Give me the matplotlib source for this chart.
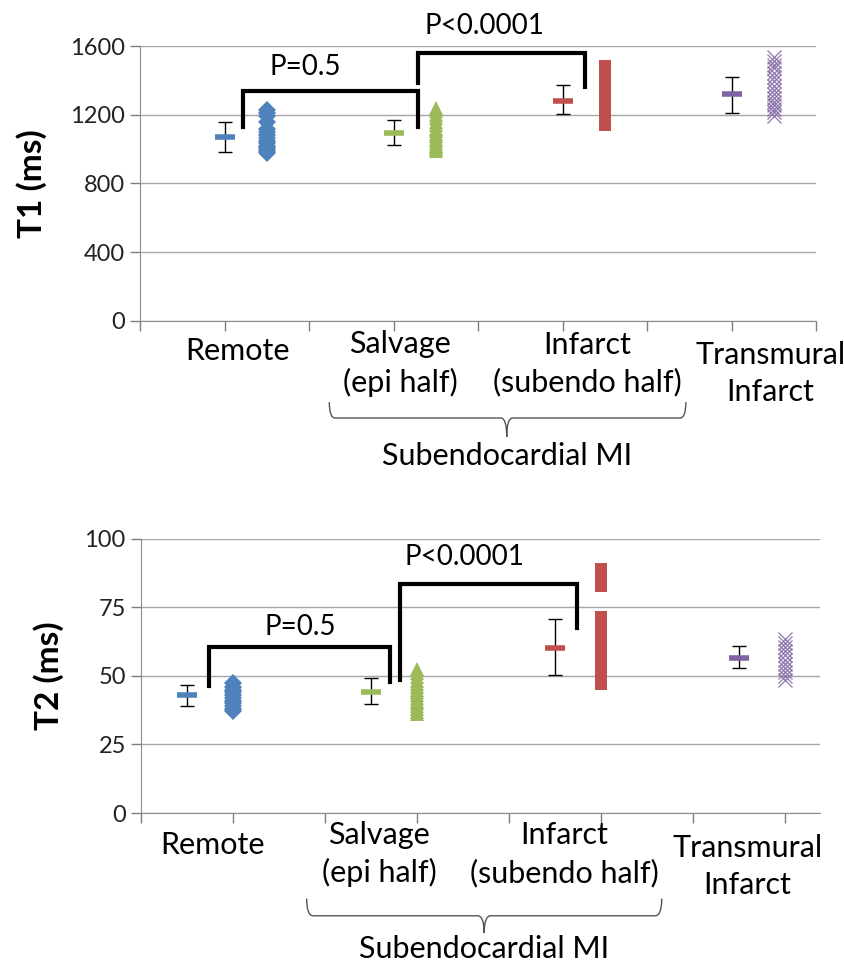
import matplotlib
matplotlib.use("Agg")
import matplotlib.pyplot as plt
import matplotlib.transforms as mtransforms
from matplotlib.path import Path
from matplotlib.patches import PathPatch

plt.rcParams['font.family'] = ['Lato', 'DejaVu Sans']

# groups shown on both panels
groups = ["Remote", "Salvage\n(epi half)", "Infarct\n(subendo half)", "Transmural\nInfarct"]
colors = ["#4F81BD", "#9BBB59", "#C0504D", "#8064A2"]
markers = ["D", "^", "s", "x"]

# T1 panel: mean, error bar ends, individual values
t1_mean = [1070, 1094, 1280, 1321]
t1_lo = [983, 1024, 1204, 1210]
t1_hi = [1158, 1170, 1373, 1420]
t1_remote = [977, 990, 1000, 1010, 1020, 1035, 1050, 1065, 1080, 1100, 1120, 1160, 1190, 1210, 1228]
t1_salvage = [990, 1000, 1010, 1020, 1030, 1045, 1060, 1075, 1090, 1105, 1120, 1140, 1160, 1180, 1200, 1220, 1238]
t1_infarct = [1143, 1165, 1190, 1215, 1240, 1265, 1290, 1315, 1340, 1365, 1390, 1415, 1440, 1460, 1481]
t1_transmural = [1193, 1215, 1235, 1255, 1275, 1300, 1320, 1345, 1370, 1395, 1420, 1445, 1470, 1490, 1515, 1536]
t1_ticks = [0, 400, 800, 1200, 1600]

# T2 panel
t2_mean = [43.1, 44.2, 60.2, 56.6]
t2_lo = [39.0, 39.8, 50.4, 52.9]
t2_hi = [46.7, 49.3, 70.8, 60.9]
t2_remote = [37.2, 38, 39, 40, 41, 42, 43, 44, 45, 46, 47.4]
t2_salvage = [36, 37, 38, 39, 40, 41, 42, 43, 44, 45, 46, 47, 48, 49.5, 51, 52.6]
t2_infarct = [47, 49, 51, 53, 55, 57, 59, 61, 63, 65, 67, 69, 71.4, 82.7, 84.5, 86.5, 88.9]
t2_transmural = [48.5, 50, 51.5, 53, 54.5, 56, 57.5, 59, 60.5, 62, 63.5]
t2_ticks = [0, 25, 50, 75, 100]

# significance brackets: (x left, x right, y left end, y right end, y bar, label, label x, label y)
t1_brackets = [(1.22, 3.29, 1129, 1129, 1338, "P=0.5", 1.95, 1478),
               (3.29, 5.27, 1385, 1361, 1559, "P<0.0001", 4.08, 1715)]
t2_brackets = [(0.74, 2.71, 46.4, 47.8, 60.6, "P=0.5", 1.73, 67.9),
               (2.82, 4.74, 48.5, 67.5, 83.6, "P<0.0001", 3.52, 93.4)]

fig = plt.figure(figsize=(8.45, 9.65), dpi=100)
ax1 = fig.add_axes([0.1657, 0.6674, 0.8, 0.2849])
ax2 = fig.add_axes([0.1669, 0.1575, 0.8035, 0.2840])


def draw_brace(ax, x0, x1, xm, y_end, y_mid, y_tip):
    trans = mtransforms.blended_transform_factory(ax.transData, ax.transAxes)
    dx = 0.07
    verts = [(x0, y_end), (x0, y_mid), (x0 + dx, y_mid),
             (xm - dx, y_mid), (xm, y_mid), (xm, y_tip),
             (xm, y_mid), (xm + dx, y_mid),
             (x1 - dx, y_mid), (x1, y_mid), (x1, y_end)]
    codes = [Path.MOVETO, Path.CURVE3, Path.CURVE3,
             Path.LINETO, Path.CURVE3, Path.CURVE3,
             Path.CURVE3, Path.CURVE3,
             Path.LINETO, Path.CURVE3, Path.CURVE3]
    patch = PathPatch(Path(verts, codes), transform=trans, fill=False,
                      edgecolor="#555555", linewidth=1.0, clip_on=False)
    ax.add_patch(patch)


def draw_panel(ax, means, lo, hi, points, ticks, brackets, xmax, offset,
               ylabel, label_x, label_y, brace, ylabel_x):
    for i in range(4):
        xm = 2 * i + offset
        ax.errorbar([xm], [means[i]], yerr=[[means[i] - lo[i]], [hi[i] - means[i]]],
                    fmt="none", ecolor="black", elinewidth=1, capsize=5, capthick=1, zorder=3)
        ax.plot([xm], [means[i]], marker="_", markersize=14, mew=4,
                color=colors[i], linestyle="none", zorder=4)
        xs = [xm + 0.5] * len(points[i])
        if markers[i] == "x":
            ax.plot(xs, points[i], marker="x", markersize=10, mew=1.0,
                    color=colors[i], linestyle="none", alpha=0.8, zorder=3)
        else:
            ms = {"D": 9, "^": 10, "s": 9}[markers[i]]
            ax.plot(xs, points[i], marker=markers[i], markersize=ms, mew=0,
                    color=colors[i], linestyle="none", zorder=3)

    for xl, xr, yl, yr, yb, txt, tx, ty in brackets:
        ax.plot([xl, xl, xr, xr], [yl, yb, yb, yr], color="black", linewidth=3,
                solid_joinstyle="miter", clip_on=False, zorder=5)
        ax.text(tx, ty, txt, ha="center", va="center", fontsize=20, clip_on=False)

    ax.set_xlim(0, xmax)
    ax.set_ylim(ticks[0], ticks[-1])
    ax.set_yticks(ticks)
    ax.set_xticks(range(0, int(xmax) + 1))
    ax.set_xticklabels([])
    ax.tick_params(axis="y", labelsize=17, colors="#7f7f7f", labelcolor="#222222",
                   length=7, width=1, direction="out", pad=4)
    ax.tick_params(axis="x", colors="#7f7f7f", length=7, width=1, direction="out")
    ax.grid(axis="y", color="#a6a6a6", linewidth=1)
    ax.set_axisbelow(True)
    for side in ["top", "right"]:
        ax.spines[side].set_visible(False)
    for side in ["left", "bottom"]:
        ax.spines[side].set_color("#8c8c8c")
    ax.set_ylabel(ylabel, fontsize=24, fontweight="bold")
    ax.yaxis.set_label_coords(ylabel_x, 0.5)

    trans = mtransforms.blended_transform_factory(ax.transData, ax.transAxes)
    for i in range(4):
        ax.text(label_x[i], label_y[i], groups[i], transform=trans, ha="center",
                va="center", fontsize=22, linespacing=1.4)
    draw_brace(ax, *brace[:6])
    ax.text(brace[2], brace[6], "Subendocardial MI", transform=trans,
            ha="center", va="center", fontsize=22)


draw_panel(ax1, t1_mean, t1_lo, t1_hi,
           [t1_remote, t1_salvage, t1_infarct, t1_transmural],
           t1_ticks, t1_brackets, 8, 1, "T1 (ms)",
           [1.15, 3.08, 5.29, 7.46], [-0.109, -0.155, -0.155, -0.19],
           (2.24, 6.46, 4.34, -0.295, -0.353, -0.422, -0.491), -0.138)

draw_panel(ax2, t2_mean, t2_lo, t2_hi,
           [t2_remote, t2_salvage, t2_infarct, t2_transmural],
           t2_ticks, t2_brackets, 7.38, 0.5, "T2 (ms)",
           [0.78, 2.59, 4.6, 6.59], [-0.117, -0.15, -0.15, -0.195],
           (1.80, 5.66, 3.73, -0.312, -0.375, -0.438, -0.497), -0.114)

fig.savefig("out.png", dpi=100)
